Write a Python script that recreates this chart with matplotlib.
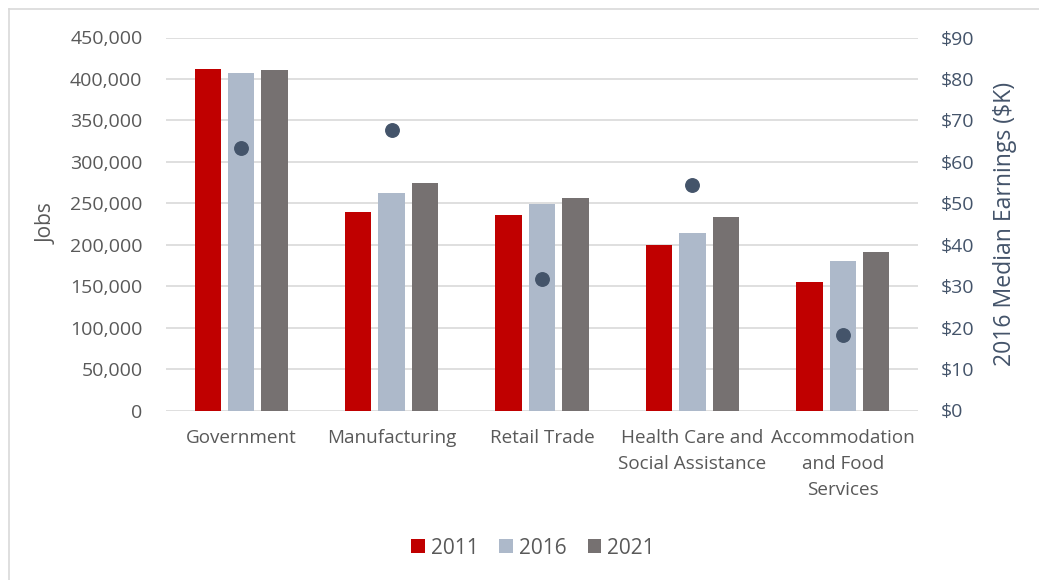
import matplotlib
matplotlib.use("Agg")
import matplotlib.pyplot as plt
from matplotlib.ticker import FuncFormatter, MultipleLocator
from matplotlib.lines import Line2D
from matplotlib.patches import Patch
import numpy as np

plt.rcParams['font.family'] = ['Open Sans', 'DejaVu Sans']

categories = ["Government", "Manufacturing", "Retail Trade",
              "Health Care and\nSocial Assistance",
              "Accommodation\nand Food\nServices"]
years = ["2011", "2016", "2021"]
jobs_2011 = [412000, 239000, 236000, 199500, 154500]
jobs_2016 = [407500, 262500, 249500, 214000, 180000]
jobs_2021 = [411000, 274500, 256500, 233500, 191000]
median_earnings_k = [63.3, 67.7, 31.7, 54.5, 18.2]

bar_colors = ["#c00000", "#adb9ca", "#767171"]
dot_color = "#44546a"
grey_text = "#595959"

W, H = 1039, 580
fig = plt.figure(figsize=(W / 100, H / 100), dpi=100)
ax = fig.add_axes([166 / W, (H - 410.5) / H, (918 - 166) / W, 373 / H])

x = np.arange(len(categories))
width = 0.175
step = 0.222
for i, (vals, col) in enumerate(zip([jobs_2011, jobs_2016, jobs_2021], bar_colors)):
    ax.bar(x + (i - 1) * step, vals, width=width, color=col, zorder=3)

ax.set_xlim(-0.5, len(categories) - 0.5)
ax.set_ylim(0, 450000)
ax.yaxis.set_major_locator(MultipleLocator(50000))
ax.yaxis.set_major_formatter(FuncFormatter(lambda v, p: f"{int(v):,}"))
ax.grid(axis='y', color='#d9d9d9', linewidth=1.2, zorder=0)
ax.set_axisbelow(True)
for s in ax.spines.values():
    s.set_visible(False)
ax.tick_params(axis='y', length=0, pad=17, labelsize=14, labelcolor=grey_text)
ax.tick_params(axis='x', length=0, pad=13, labelsize=13.6, labelcolor=grey_text)
ax.set_xticks(x)
ax.set_xticklabels(categories, linespacing=1.6, va='top')
ax.set_ylabel("Jobs", fontsize=15, color=grey_text, labelpad=9)

ax2 = ax.twinx()
ax2.set_ylim(0, 90)
ax2.yaxis.set_major_locator(MultipleLocator(10))
ax2.yaxis.set_major_formatter(FuncFormatter(lambda v, p: f"${int(v)}"))
ax2.plot(x, median_earnings_k, linestyle='none', marker='o', markersize=9.7,
         color=dot_color, zorder=5)
for s in ax2.spines.values():
    s.set_visible(False)
ax2.tick_params(axis='y', length=0, pad=16.5, labelsize=14, labelcolor=dot_color)
ax2.set_ylabel("2016 Median Earnings ($K)", fontsize=16.6, color=dot_color, labelpad=13)

handles = [Patch(facecolor=c, label=y) for c, y in zip(bar_colors, years)]
leg = fig.legend(handles=handles, loc='center', bbox_to_anchor=(533 / W, (H - 548) / H),
                 ncol=3, frameon=False, fontsize=15, handlelength=0.65, handleheight=0.65,
                 handletextpad=0.3, columnspacing=1.0)
for t in leg.get_texts():
    t.set_color(grey_text)

# chart-area frame (left and top edges)
fig.add_artist(Line2D([8.5 / W, 8.5 / W], [0, (H - 8.5) / H], transform=fig.transFigure,
                      color='#d9d9d9', linewidth=1.2))
fig.add_artist(Line2D([8.5 / W, 1], [(H - 8.5) / H, (H - 8.5) / H], transform=fig.transFigure,
                      color='#d9d9d9', linewidth=1.2))

fig.savefig("out.png", dpi=100, facecolor='white')
